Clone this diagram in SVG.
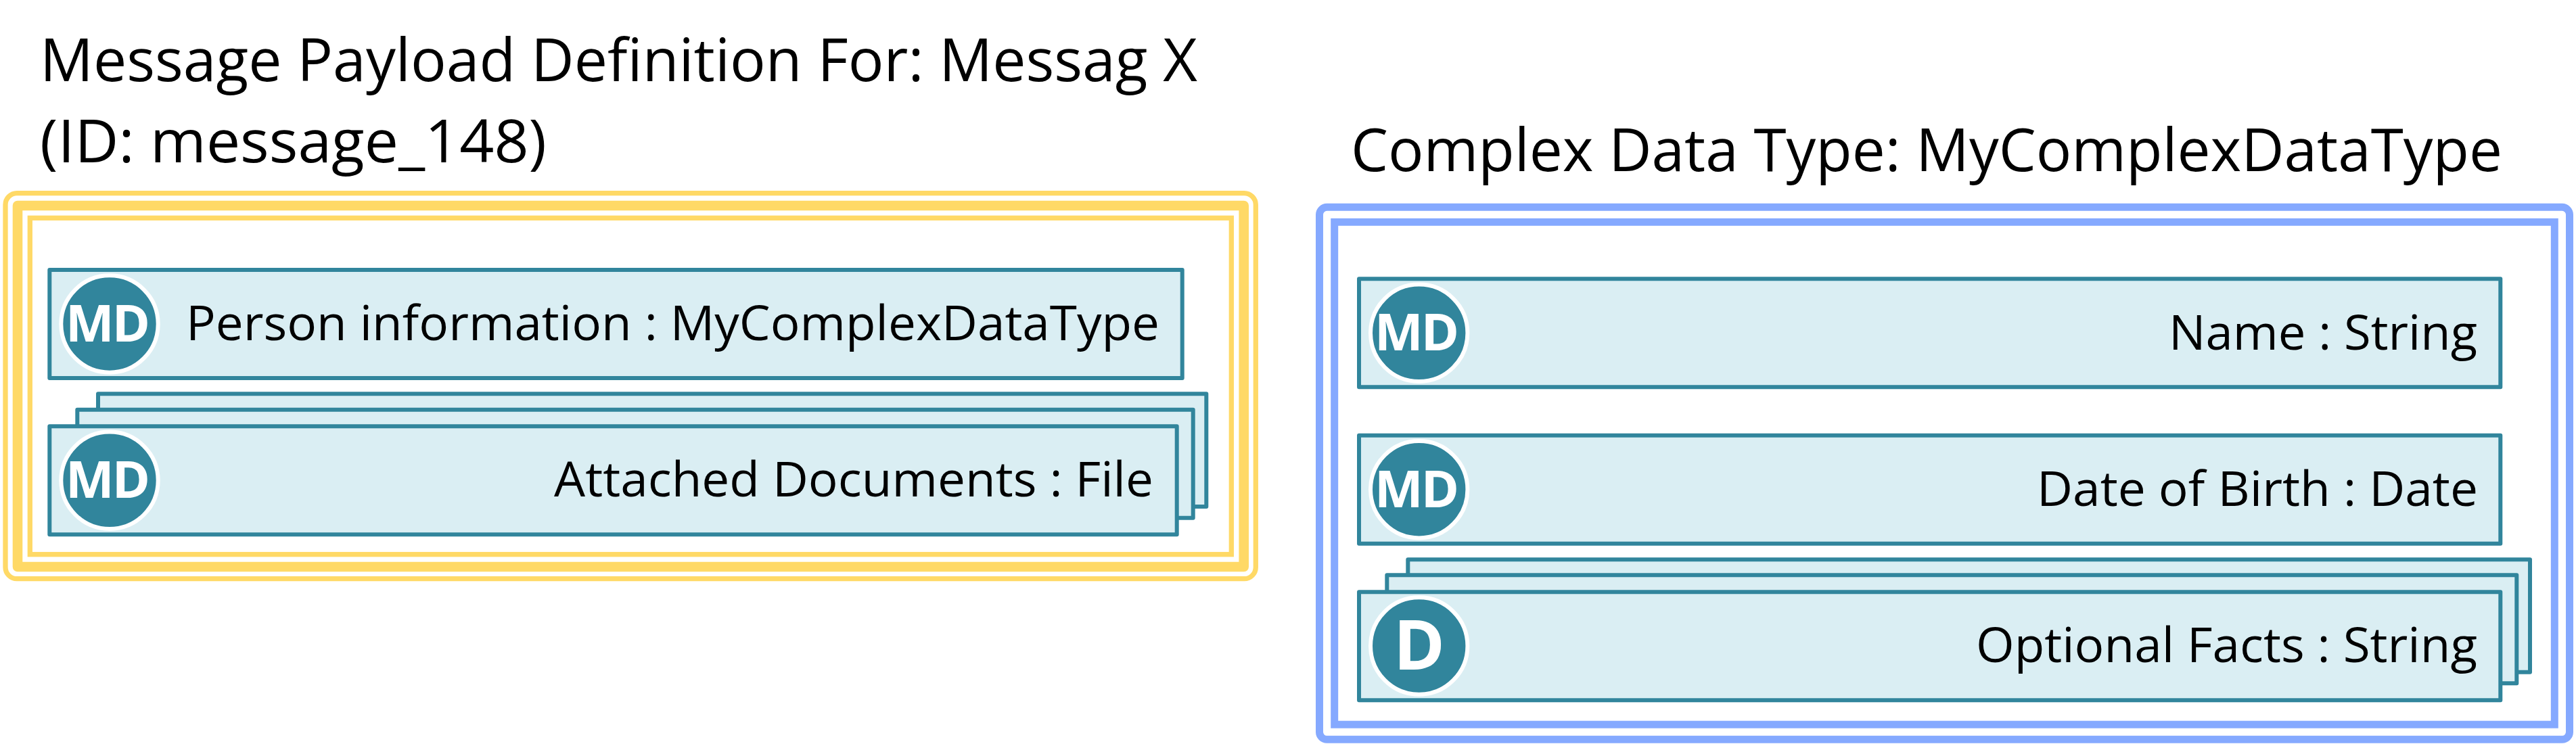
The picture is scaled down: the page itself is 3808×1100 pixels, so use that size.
<svg xmlns="http://www.w3.org/2000/svg" width="3808" height="1100" viewBox="0 0 3808 1100">
<style>
text{font-family:"Open Sans","Noto Sans",sans-serif;fill:#000}
.t{font-size:87px}
.l{font-size:71px}
.a{fill:#daeef3;stroke:#31859c;stroke-width:6;stroke-linejoin:round}
.c{fill:#31859c;stroke:#fff;stroke-width:6}
.i{font-size:76px;font-weight:700;fill:#fff;letter-spacing:-3px}
.d{font-size:102px;font-weight:700;fill:#fff}
.y{fill:none;stroke:#ffd966}
.b{fill:none;stroke:#85a9ff;stroke-width:11}
</style>
<rect width="3808" height="1100" fill="#fff"/>
<g id="message">
<text class="t" x="59" y="120" textLength="1711" lengthAdjust="spacingAndGlyphs">Message Payload Definition For: Messag X</text>
<text class="t" x="59" y="240" textLength="749" lengthAdjust="spacingAndGlyphs">(ID: message_148)</text>
<rect class="y" x="8" y="285.6" width="1848.3" height="570.1" rx="17" stroke-width="7.3"/>
<rect class="y" x="26" y="304" width="1812.7" height="534" stroke-width="14.6" stroke-linejoin="round"/>
<rect class="y" x="44.3" y="322.3" width="1776" height="497.4" stroke-width="7.3"/>
</g>
<g id="person">
<rect class="a" x="73.3" y="399" width="1674.4" height="160"/>
<circle class="c" cx="162" cy="479" r="71.7"/>
<text class="i" x="97" y="505">MD</text>
<text class="l" x="275" y="503" textLength="1439" lengthAdjust="spacingAndGlyphs">Person information : MyComplexDataType</text>
</g>
<g id="documents">
<rect class="a" x="145" y="582.3" width="1638.3" height="166.7"/>
<rect class="a" x="114.3" y="605.7" width="1649.4" height="160"/>
<rect class="a" x="73.3" y="630.3" width="1666.4" height="160"/>
<circle class="c" cx="162" cy="710.3" r="71.7"/>
<text class="i" x="97" y="736">MD</text>
<text class="l" x="819" y="734" textLength="886" lengthAdjust="spacingAndGlyphs">Attached Documents : File</text>
</g>
<g id="complex">
<text class="t" x="1997" y="253" textLength="1702" lengthAdjust="spacingAndGlyphs">Complex Data Type: MyComplexDataType</text>
<rect class="b" x="1950.5" y="306.3" width="1848" height="787" rx="11"/>
<rect class="b" x="1972.7" y="328.3" width="1803.6" height="742.9"/>
</g>
<g id="name">
<rect class="a" x="2009" y="412.3" width="1687.3" height="160"/>
<circle class="c" cx="2097.7" cy="492.3" r="71.7"/>
<text class="i" x="2032" y="518">MD</text>
<text class="l" x="3206" y="517" textLength="456" lengthAdjust="spacingAndGlyphs">Name : String</text>
</g>
<g id="birth">
<rect class="a" x="2009" y="643.7" width="1687.3" height="160"/>
<circle class="c" cx="2097.7" cy="723.7" r="71.7"/>
<text class="i" x="2032" y="749.5">MD</text>
<text class="l" x="3011" y="748" textLength="652" lengthAdjust="spacingAndGlyphs">Date of Birth : Date</text>
</g>
<g id="facts">
<rect class="a" x="2081.3" y="827.3" width="1658.7" height="166.4"/>
<rect class="a" x="2050.3" y="850.3" width="1670" height="160"/>
<rect class="a" x="2009" y="875.3" width="1687.3" height="160"/>
<circle class="c" cx="2097.7" cy="955" r="71.7"/>
<text class="d" x="2060" y="990" textLength="76" lengthAdjust="spacingAndGlyphs">D</text>
<text class="l" x="2921" y="979" textLength="741" lengthAdjust="spacingAndGlyphs">Optional Facts : String</text>
</g>
<g id="connectors"/>
</svg>
